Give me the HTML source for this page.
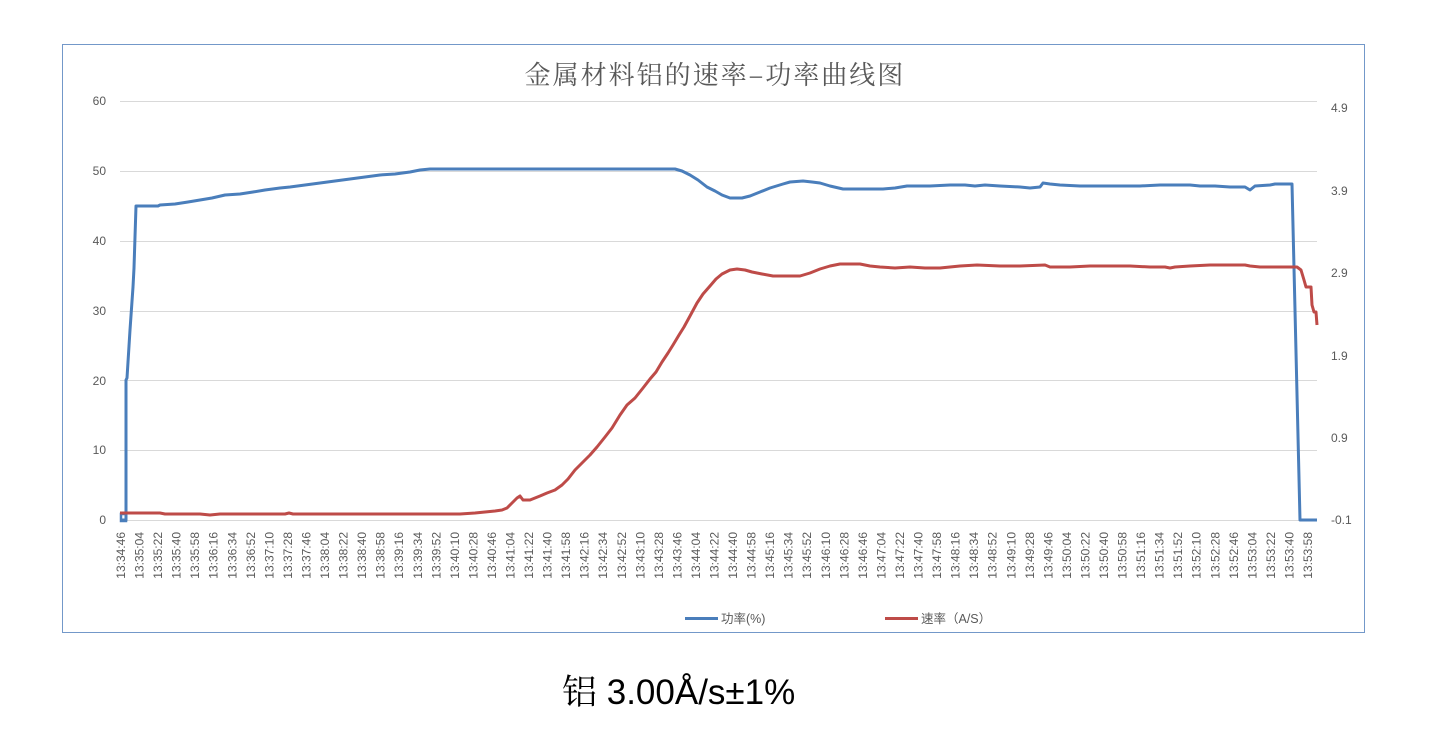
<!DOCTYPE html>
<html>
<head>
<meta charset="utf-8">
<style>
  html,body{margin:0;padding:0;background:#fff;}
  body{width:1452px;height:730px;overflow:hidden;position:relative;}
  svg{position:absolute;left:0;top:0;}
  .t{font-family:"Liberation Sans","Noto Sans CJK SC",sans-serif;font-size:12px;fill:#595959;}
</style>
</head>
<body>
<svg width="1452" height="730" viewBox="0 0 1452 730" xmlns="http://www.w3.org/2000/svg">
  <rect x="0" y="0" width="1452" height="730" fill="#fff"/>
  <!-- chart frame -->
  <rect x="62.5" y="44.5" width="1302" height="588" fill="#fff" stroke="#7398c9" stroke-width="1"/>

  <!-- title -->
  <text x="715" y="84" text-anchor="middle" style="font-family:'Noto Serif CJK SC','Noto Sans CJK SC',serif;font-size:26px;letter-spacing:2px;fill:#595959;">金属材料铝的速率–功率曲线图</text>

  <!-- gridlines -->
  <g stroke="#d9d9d9" stroke-width="1">
    <line x1="120" y1="101.5" x2="1317" y2="101.5"/>
    <line x1="120" y1="171.5" x2="1317" y2="171.5"/>
    <line x1="120" y1="241.5" x2="1317" y2="241.5"/>
    <line x1="120" y1="311.5" x2="1317" y2="311.5"/>
    <line x1="120" y1="380.5" x2="1317" y2="380.5"/>
    <line x1="120" y1="450.5" x2="1317" y2="450.5"/>
    <line x1="120" y1="520.5" x2="1317" y2="520.5"/>
  </g>

  <!-- left axis labels -->
  <g class="t" text-anchor="end">
    <text x="106" y="105">60</text>
    <text x="106" y="175">50</text>
    <text x="106" y="245">40</text>
    <text x="106" y="315">30</text>
    <text x="106" y="385">20</text>
    <text x="106" y="454">10</text>
    <text x="106" y="524">0</text>
  </g>

  <!-- right axis labels -->
  <g class="t" text-anchor="start">
    <text x="1331" y="112">4.9</text>
    <text x="1331" y="195">3.9</text>
    <text x="1331" y="277">2.9</text>
    <text x="1331" y="360">1.9</text>
    <text x="1331" y="442">0.9</text>
    <text x="1331" y="524">-0.1</text>
  </g>

  <!-- x axis labels -->
  <g class="t" text-anchor="end">
    <text transform="translate(125,532) rotate(-90)">13:34:46</text>
    <text transform="translate(143.5,532) rotate(-90)">13:35:04</text>
    <text transform="translate(162.1,532) rotate(-90)">13:35:22</text>
    <text transform="translate(180.6,532) rotate(-90)">13:35:40</text>
    <text transform="translate(199.2,532) rotate(-90)">13:35:58</text>
    <text transform="translate(217.7,532) rotate(-90)">13:36:16</text>
    <text transform="translate(236.3,532) rotate(-90)">13:36:34</text>
    <text transform="translate(254.8,532) rotate(-90)">13:36:52</text>
    <text transform="translate(273.4,532) rotate(-90)">13:37:10</text>
    <text transform="translate(291.9,532) rotate(-90)">13:37:28</text>
    <text transform="translate(310.5,532) rotate(-90)">13:37:46</text>
    <text transform="translate(329,532) rotate(-90)">13:38:04</text>
    <text transform="translate(347.6,532) rotate(-90)">13:38:22</text>
    <text transform="translate(366.1,532) rotate(-90)">13:38:40</text>
    <text transform="translate(384.7,532) rotate(-90)">13:38:58</text>
    <text transform="translate(403.2,532) rotate(-90)">13:39:16</text>
    <text transform="translate(421.8,532) rotate(-90)">13:39:34</text>
    <text transform="translate(440.3,532) rotate(-90)">13:39:52</text>
    <text transform="translate(458.8,532) rotate(-90)">13:40:10</text>
    <text transform="translate(477.4,532) rotate(-90)">13:40:28</text>
    <text transform="translate(495.9,532) rotate(-90)">13:40:46</text>
    <text transform="translate(514.5,532) rotate(-90)">13:41:04</text>
    <text transform="translate(533,532) rotate(-90)">13:41:22</text>
    <text transform="translate(551.6,532) rotate(-90)">13:41:40</text>
    <text transform="translate(570.1,532) rotate(-90)">13:41:58</text>
    <text transform="translate(588.7,532) rotate(-90)">13:42:16</text>
    <text transform="translate(607.2,532) rotate(-90)">13:42:34</text>
    <text transform="translate(625.8,532) rotate(-90)">13:42:52</text>
    <text transform="translate(644.3,532) rotate(-90)">13:43:10</text>
    <text transform="translate(662.9,532) rotate(-90)">13:43:28</text>
    <text transform="translate(681.4,532) rotate(-90)">13:43:46</text>
    <text transform="translate(700,532) rotate(-90)">13:44:04</text>
    <text transform="translate(718.5,532) rotate(-90)">13:44:22</text>
    <text transform="translate(737.1,532) rotate(-90)">13:44:40</text>
    <text transform="translate(755.6,532) rotate(-90)">13:44:58</text>
    <text transform="translate(774.1,532) rotate(-90)">13:45:16</text>
    <text transform="translate(792.7,532) rotate(-90)">13:45:34</text>
    <text transform="translate(811.2,532) rotate(-90)">13:45:52</text>
    <text transform="translate(829.8,532) rotate(-90)">13:46:10</text>
    <text transform="translate(848.3,532) rotate(-90)">13:46:28</text>
    <text transform="translate(866.9,532) rotate(-90)">13:46:46</text>
    <text transform="translate(885.4,532) rotate(-90)">13:47:04</text>
    <text transform="translate(904,532) rotate(-90)">13:47:22</text>
    <text transform="translate(922.5,532) rotate(-90)">13:47:40</text>
    <text transform="translate(941.1,532) rotate(-90)">13:47:58</text>
    <text transform="translate(959.6,532) rotate(-90)">13:48:16</text>
    <text transform="translate(978.2,532) rotate(-90)">13:48:34</text>
    <text transform="translate(996.7,532) rotate(-90)">13:48:52</text>
    <text transform="translate(1015.3,532) rotate(-90)">13:49:10</text>
    <text transform="translate(1033.8,532) rotate(-90)">13:49:28</text>
    <text transform="translate(1052.4,532) rotate(-90)">13:49:46</text>
    <text transform="translate(1070.9,532) rotate(-90)">13:50:04</text>
    <text transform="translate(1089.4,532) rotate(-90)">13:50:22</text>
    <text transform="translate(1108,532) rotate(-90)">13:50:40</text>
    <text transform="translate(1126.5,532) rotate(-90)">13:50:58</text>
    <text transform="translate(1145.1,532) rotate(-90)">13:51:16</text>
    <text transform="translate(1163.6,532) rotate(-90)">13:51:34</text>
    <text transform="translate(1182.2,532) rotate(-90)">13:51:52</text>
    <text transform="translate(1200.7,532) rotate(-90)">13:52:10</text>
    <text transform="translate(1219.3,532) rotate(-90)">13:52:28</text>
    <text transform="translate(1237.8,532) rotate(-90)">13:52:46</text>
    <text transform="translate(1256.4,532) rotate(-90)">13:53:04</text>
    <text transform="translate(1274.9,532) rotate(-90)">13:53:22</text>
    <text transform="translate(1293.5,532) rotate(-90)">13:53:40</text>
    <text transform="translate(1312,532) rotate(-90)">13:53:58</text>
  </g>

  <!-- blue series: power -->
  <rect x="121" y="514" width="5" height="7" fill="none" stroke="#4a7ebb" stroke-width="2.5"/>
  <polyline fill="none" stroke="#4a7ebb" stroke-width="3" stroke-linejoin="round" stroke-linecap="butt"
    points="121,520 126,520 126,380 127,378 130,330 133,287 134,268 136,206 138,206 150,206 158,206 160,205 175,204 188,202 200,200 212,198 225,195 240,194 253,192 265,190 280,188 290,187 305,185 320,183 335,181 350,179 365,177 380,175 395,174 410,172 420,170 430,169 675,169 682,171 690,175 698,180 707,187 715,191 722,195 730,198 742,198 750,196 760,192 770,188 783,184 790,182 803,181 812,182 820,183 830,186 843,189 860,189 883,189 895,188 907,186 930,186 950,185 965,185 975,186 985,185 1000,186 1020,187 1030,188 1040,187 1043,183 1050,184 1060,185 1080,186 1100,186 1120,186 1140,186 1160,185 1175,185 1190,185 1200,186 1215,186 1230,187 1245,187 1250,190 1255,186 1270,185 1275,184 1285,184 1292,184 1300,520 1317,520"/>

  <!-- red series: rate -->
  <polyline fill="none" stroke="#be4b48" stroke-width="3" stroke-linejoin="round" stroke-linecap="butt"
    points="120,513 160,513 165,514 200,514 210,515 220,514 285,514 289,513 293,514 440,514 460,514 475,513 485,512 495,511 502,510 507,508 512,503 517,498 520,496 523,500 530,500 540,496 547,493 555,490 562,485 568,479 575,470 582,463 590,455 597,447 605,437 612,428 620,415 627,405 635,398 643,388 650,379 656,372 662,362 668,353 673,345 679,335 684,327 690,316 697,303 703,294 710,286 716,279 722,274 730,270 737,269 745,270 752,272 762,274 773,276 785,276 800,276 810,273 820,269 830,266 840,264 850,264 860,264 870,266 880,267 895,268 910,267 925,268 940,268 960,266 977,265 1000,266 1020,266 1045,265 1050,267 1070,267 1090,266 1110,266 1130,266 1150,267 1165,267 1170,268 1175,267 1190,266 1210,265 1230,265 1245,265 1250,266 1260,267 1275,267 1285,267 1297,267 1301,270 1304,280 1306,287 1311,287 1312,305 1314,312 1316,312 1317,325"/>

  <!-- legend -->
  <line x1="685" y1="618.5" x2="718" y2="618.5" stroke="#4a7ebb" stroke-width="3"/>
  <text x="721" y="623" style="font-family:'Liberation Sans','Noto Sans CJK SC',sans-serif;font-size:12.5px;fill:#595959;">功率(%)</text>
  <line x1="885" y1="618.5" x2="918" y2="618.5" stroke="#be4b48" stroke-width="3"/>
  <text x="921" y="623" style="font-family:'Liberation Sans','Noto Sans CJK SC',sans-serif;font-size:12.5px;fill:#595959;">速率（A/S）</text>

  <!-- caption -->
  <text x="562" y="704" style="font-family:'Liberation Sans','Noto Serif CJK SC',sans-serif;font-size:35px;fill:#000;">铝 3.00Å/s±1%</text>
</svg>
</body>
</html>
